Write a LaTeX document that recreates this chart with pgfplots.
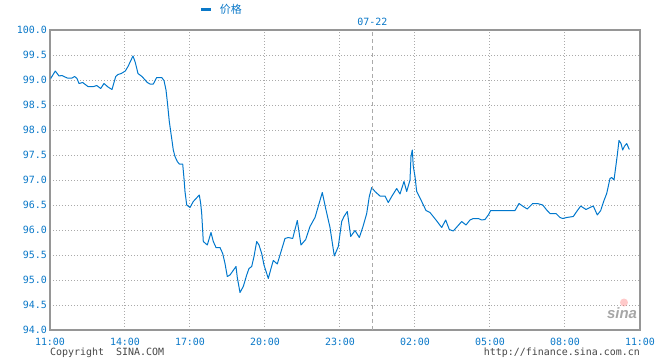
\documentclass[border=0pt]{standalone}
\usepackage{fontspec}
\usepackage{pgfplots}
\pgfplotsset{compat=1.18}
\newfontfamily\mono{DejaVu Sans Mono}
\newfontfamily\cjk{Noto Sans CJK SC}
\newfontfamily\logofont{Liberation Sans}
\definecolor{lineblue}{RGB}{0,119,204}
\definecolor{textblue}{RGB}{10,120,200}
\definecolor{gridgray}{RGB}{170,170,170}
\definecolor{framegray}{RGB}{150,150,150}
\definecolor{copygray}{RGB}{70,70,70}
\begin{document}
\begin{tikzpicture}
\path[use as bounding box] (-50bp,-30bp) rectangle (610bp,330bp);
\begin{axis}[
  at={(0,0)}, anchor=south west,
  scale only axis, width=590bp, height=300bp,
  xmin=50, xmax=640, ymin=94, ymax=100,
  clip=false,
  axis line style={draw=framegray, line width=1.5bp},
  xtick={50,125,190,265,340,415,490,565,640},
  xticklabels={11:00,14:00,17:00,20:00,23:00,02:00,05:00,08:00,11:00},
  ytick={94,94.5,95,95.5,96,96.5,97,97.5,98,98.5,99,99.5,100},
  yticklabels={94.0,94.5,95.0,95.5,96.0,96.5,97.0,97.5,98.0,98.5,99.0,99.5,100.0},
  major tick length=0pt,
  grid=major,
  grid style={gridgray, line width=1bp, dash pattern=on 1bp off 2bp},
  tick label style={font=\mono\fontsize{10}{12}\selectfont, text=textblue, inner sep=0pt},
  yticklabel style={anchor=east, xshift=-3bp},
  xticklabel style={anchor=north, yshift=-7.5bp},
  legend style={draw=none, fill=none, at={(axis cs:200,100.41)}, anchor=west,
    inner sep=0pt, outer sep=0pt, font=\cjk\fontsize{11}{12}\selectfont, text=textblue,
    nodes={inner sep=0pt}},
  legend image code/.code={\draw[line width=3bp, color=textblue] (0bp,0bp) -- (10bp,0bp);},
]
\addplot[lineblue, line width=1bp, line join=round] coordinates {
(50.7,99.03) (55.3,99.18) (59,99.08) (62,99.09) (64,99.07) (67.3,99.04) (72,99.04)
(74.7,99.07) (77,99.03) (79,98.93) (82.7,98.95) (85.3,98.91) (88,98.87) (93.7,98.87)
(96.7,98.89) (100.7,98.83) (104,98.93) (108,98.86) (112,98.81) (115.7,99.07) (118,99.11)
(121.3,99.13) (125.3,99.18) (128,99.27) (133,99.48) (135.3,99.35) (138,99.13) (142,99.07)
(147.3,98.95) (150,98.92) (153.3,98.92) (156.7,99.05) (161.7,99.05) (164,98.99) (166,98.8)
(167.3,98.57) (169.3,98.17) (171.7,97.83) (173.3,97.6) (175,97.47) (177.3,97.37) (179.3,97.32)
(182.7,97.32) (184,97.03) (185,96.77) (186.7,96.5) (190,96.45) (193.3,96.57) (199.3,96.7)
(200.7,96.53) (201.7,96.33) (203.3,95.77) (207.3,95.7) (211,95.95) (213.3,95.77) (216,95.65)
(220,95.65) (222.7,95.53) (225,95.33) (227.3,95.07) (230,95.1) (236,95.27) (237.3,95.05)
(240,94.75) (243.3,94.87) (246.7,95.1) (249,95.23) (251.7,95.27) (254,95.47) (256.7,95.77)
(259,95.7) (261.7,95.53) (264,95.3) (268.3,95.03) (271,95.23) (273.3,95.39) (277.3,95.32)
(280,95.5) (285,95.83) (288.3,95.85) (292.7,95.83) (297.3,96.19) (301,95.7) (305.7,95.81)
(310,96.07) (315,96.25) (322.3,96.75) (325.7,96.43) (330,96.05) (334.3,95.48) (338.3,95.67)
(341.7,96.17) (344,96.27) (347.3,96.37) (350.7,95.87) (355,95.99) (359.3,95.85) (362.7,96.05)
(366.7,96.33) (369.3,96.67) (371.7,96.85) (375,96.77) (380,96.68) (385,96.68) (388.3,96.55)
(391.7,96.67) (396.7,96.83) (400,96.72) (404,96.97) (406.7,96.77) (410,97.0) (411,97.47)
(412.3,97.6) (413.3,97.27) (415,97.07) (416.7,96.77) (421.7,96.57) (426,96.39) (430,96.35)
(436,96.2) (441.7,96.05) (445.7,96.2) (449.3,96.01) (453.3,95.98) (457.3,96.07) (461.7,96.17)
(466,96.1) (470,96.2) (473.3,96.23) (478.3,96.23) (481.7,96.2) (485,96.21) (488.3,96.3)
(490.7,96.39) (515,96.39) (519,96.53) (523.3,96.47) (527.3,96.42) (532.7,96.53) (537.3,96.53)
(542.7,96.5) (546.7,96.4) (550,96.33) (556,96.33) (560,96.25) (562.7,96.23) (566.7,96.25)
(573.3,96.27) (576.7,96.37) (580.7,96.48) (586,96.41) (590,96.45) (593.3,96.48) (597.3,96.3)
(600.7,96.39) (604,96.59) (606.7,96.73) (610,97.03) (611.7,97.05) (614,97.0) (616,97.3)
(617.3,97.5) (619,97.79) (621,97.73) (622.7,97.6) (624.3,97.67) (626.7,97.73) (629.3,97.61)
};
\addlegendentry{\hspace{7bp}价格}
\draw[gridgray, line width=1bp, dash pattern=on 4bp off 3bp] (axis cs:372.3,94) -- (axis cs:372.3,100);
\node[anchor=south, inner sep=0pt, yshift=4bp, font=\mono\fontsize{10}{12}\selectfont, text=textblue] at (axis cs:372.3,100) {07-22};
\node[anchor=north west, inner sep=0pt, yshift=-18bp, font=\mono\fontsize{10}{12}\selectfont, text=copygray] at (axis cs:50,94) {Copyright\ \ SINA.COM};
\node[anchor=north east, inner sep=0pt, yshift=-18bp, font=\mono\fontsize{10}{12}\selectfont, text=copygray] at (axis cs:640,94) {http://finance.sina.com.cn};
\fill[red!60, opacity=0.35] (axis cs:624,94.55) circle (4bp);
\node[inner sep=0pt, font=\logofont\bfseries\itshape\fontsize{15}{16}\selectfont, text=black!35] at (axis cs:622,94.34) {sina};
\end{axis}
\end{tikzpicture}
\end{document}
